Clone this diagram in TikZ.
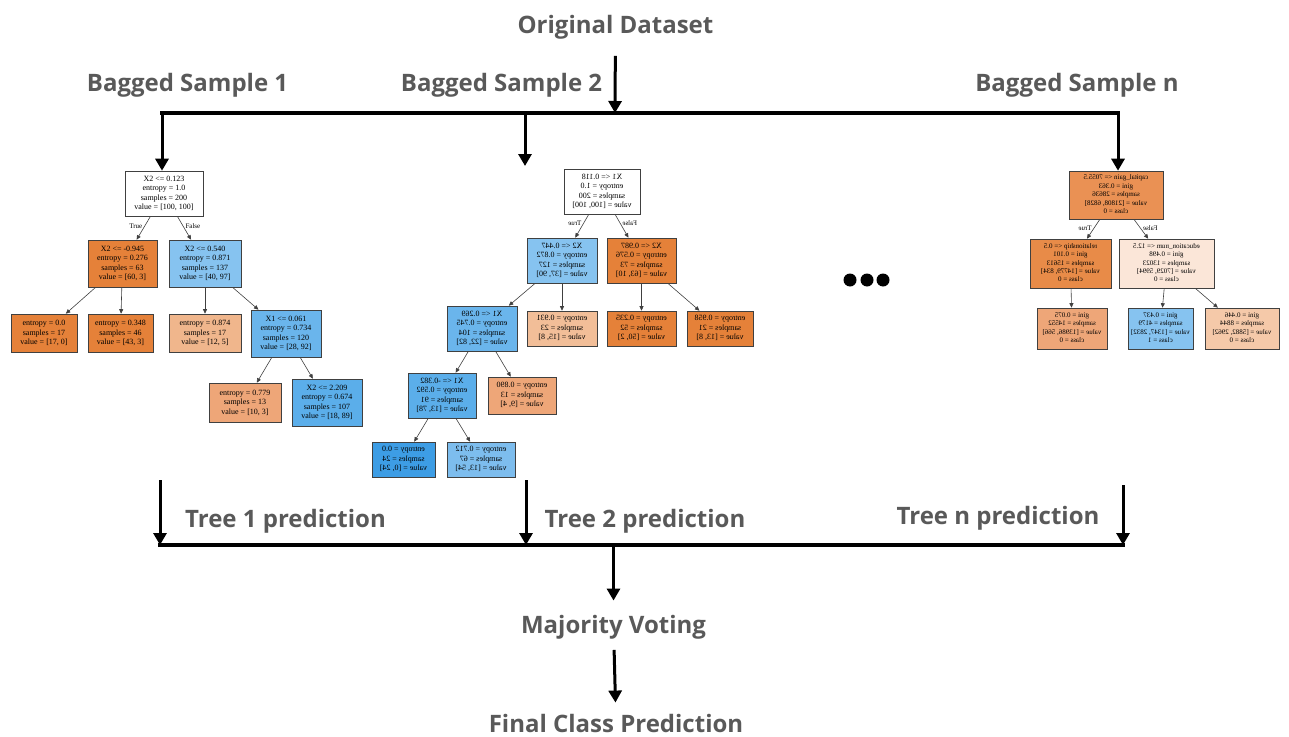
\documentclass[tikz,border=0pt]{standalone}
\usepackage{fontspec}
\usepackage{tikz}
\usetikzlibrary{arrows.meta, calc}
\newfontfamily\labelfont{Open Sans}
\newfontfamily\treefont{Liberation Serif}
\definecolor{ink}{gray}{0.35}
\definecolor{edge}{gray}{0.25}
\definecolor{org}{RGB}{229,129,57}
\definecolor{orgB}{RGB}{232,139,72}
\definecolor{orgR}{RGB}{234,145,84}
\definecolor{loA}{RGB}{240,182,140}
\definecolor{loB}{RGB}{238,166,120}
\definecolor{loC}{RGB}{242,190,152}
\definecolor{loD}{RGB}{245,201,169}
\definecolor{pale}{RGB}{251,230,216}
\definecolor{bluA}{RGB}{134,195,240}
\definecolor{bluB}{RGB}{106,181,236}
\definecolor{bluC}{RGB}{91,174,234}
\definecolor{bluD}{RGB}{61,157,229}
\definecolor{bluE}{RGB}{125,189,238}
% mirrored node text, as printed in the second and last tree
\newcommand{\mirlines}[1]{\reflectbox{\begin{tabular}{@{}c@{}}#1\end{tabular}}}

\begin{document}
\begin{tikzpicture}[
  x=1pt, y=-1pt,
  lbl/.style={font=\labelfont\bfseries\fontsize{24}{28}\selectfont, text=ink,
              inner sep=0pt, anchor=base},
  arr/.style={line width=3pt, -{Triangle[length=12pt, width=13pt]}},
  bus/.style={line width=3.5pt, line cap=rect},
  tn/.style={draw=edge, line width=.6pt, inner sep=1pt, align=center,
             font=\treefont\fontsize{8}{9.5}\selectfont},
  tsm/.style={tn, font=\treefont\fontsize{7}{8.4}\selectfont},
  te/.style={draw=edge, line width=.6pt, -{Triangle[length=4.5pt, width=4pt]}},
  el/.style={font=\treefont\fontsize{7}{8}\selectfont, inner sep=1pt},
]
\useasboundingbox (0,0) rectangle (1289,736);

% labels
\node[lbl] (orig) at (615.5,33) {Original Dataset};
\node[lbl] (bag1) at (187.5,91) {Bagged Sample 1};
\node[lbl] (bag2) at (501.5,91) {Bagged Sample 2};
\node[lbl] (bagn) at (1077,91) {Bagged Sample n};
\node[lbl] (pred1) at (285.5,527) {Tree 1 prediction};
\node[lbl] (pred2) at (645,527) {Tree 2 prediction};
\node[lbl] (predn) at (998,524) {Tree n prediction};
\node[lbl] (vote) at (613.5,633) {Majority Voting};
\node[lbl] (final) at (616,732) {Final Class Prediction};

% tree 1
\node[tn, fill=white, minimum width=78, minimum height=45] (r1) at (164,193.5)
  {X2 <= 0.123\\entropy = 1.0\\samples = 200\\value = [100, 100]};
\node[tn, fill=org, minimum width=69, minimum height=47] (a1) at (122.5,263.5)
  {X2 <= -0.945\\entropy = 0.276\\samples = 63\\value = [60, 3]};
\node[tn, fill=bluA, minimum width=72, minimum height=47] (b1) at (205,263.5)
  {X2 <= 0.540\\entropy = 0.871\\samples = 137\\value = [40, 97]};
\node[tn, fill=org, minimum width=66, minimum height=38] (c1) at (44,333)
  {entropy = 0.0\\samples = 17\\value = [17, 0]};
\node[tn, fill=org, minimum width=65, minimum height=38] (d1) at (120.5,333)
  {entropy = 0.348\\samples = 46\\value = [43, 3]};
\node[tn, fill=loA, minimum width=72, minimum height=38] (e1) at (205,333)
  {entropy = 0.874\\samples = 17\\value = [12, 5]};
\node[tn, fill=bluB, minimum width=70, minimum height=47] (f1) at (286,333.5)
  {X1 <= 0.061\\entropy = 0.734\\samples = 120\\value = [28, 92]};
\node[tn, fill=loB, minimum width=72, minimum height=39] (g1) at (245,402.5)
  {entropy = 0.779\\samples = 13\\value = [10, 3]};
\node[tn, fill=bluC, minimum width=70, minimum height=47] (h1) at (327,402.5)
  {X2 <= 2.209\\entropy = 0.674\\samples = 107\\value = [18, 89]};
\draw[te] (r1) -- node[el, left=1pt, pos=.43] {True} (a1);
\draw[te] (r1) -- node[el, right=1pt, pos=.43] {False} (b1);
\draw[te] (a1) -- (c1);
\draw[te] (a1) -- (d1);
\draw[te] (b1) -- (e1);
\draw[te] (b1) -- (f1);
\draw[te] (f1) -- (g1);
\draw[te] (f1) -- (h1);

% tree 2
\node[tn, fill=white, minimum width=76, minimum height=45] (r2) at (602,191.5)
  {\mirlines{X1 <= 0.118\\entropy = 1.0\\samples = 200\\value = [100, 100]}};
\node[tn, fill=bluA, minimum width=70, minimum height=45] (a2) at (562,260.5)
  {\mirlines{X2 <= 0.447\\entropy = 0.872\\samples = 127\\value = [37, 90]}};
\node[tn, fill=org, minimum width=69, minimum height=45] (b2) at (641.5,260.5)
  {\mirlines{X2 <= 0.987\\entropy = 0.576\\samples = 73\\value = [63, 10]}};
\node[tn, fill=bluB, minimum width=70, minimum height=45] (c2) at (482,328.5)
  {\mirlines{X1 <= 0.269\\entropy = 0.745\\samples = 104\\value = [22, 82]}};
\node[tn, fill=loC, minimum width=70, minimum height=35] (d2) at (562,328.5)
  {\mirlines{entropy = 0.931\\samples = 23\\value = [15, 8]}};
\node[tn, fill=org, minimum width=69, minimum height=35] (e2) at (641.5,328.5)
  {\mirlines{entropy = 0.235\\samples = 52\\value = [50, 2]}};
\node[tn, fill=org, minimum width=66, minimum height=35] (f2) at (720,328.5)
  {\mirlines{entropy = 0.958\\samples = 21\\value = [13, 8]}};
\node[tn, fill=bluC, minimum width=68, minimum height=45] (g2) at (442,395.5)
  {\mirlines{X1 <= -0.382\\entropy = 0.592\\samples = 91\\value = [13, 78]}};
\node[tn, fill=loB, minimum width=68, minimum height=37] (h2) at (522,395.5)
  {\mirlines{entropy = 0.890\\samples = 13\\value = [9, 4]}};
\node[tn, fill=bluD, minimum width=63, minimum height=35] (i2) at (403.5,459.5)
  {\mirlines{entropy = 0.0\\samples = 24\\value = [0, 24]}};
\node[tn, fill=bluE, minimum width=68, minimum height=35] (j2) at (481,459.5)
  {\mirlines{entropy = 0.712\\samples = 67\\value = [13, 54]}};
\draw[te] (r2) -- node[el, left=1pt, pos=.38] {\reflectbox{True}} (a2);
\draw[te] (r2) -- node[el, right=1pt, pos=.38] {\reflectbox{False}} (b2);
\draw[te] (a2) -- (c2);
\draw[te] (a2) -- (d2);
\draw[te] (b2) -- (e2);
\draw[te] (b2) -- (f2);
\draw[te] (c2) -- (g2);
\draw[te] (c2) -- (h2);
\draw[te] (g2) -- (i2);
\draw[te] (g2) -- (j2);

% tree n
\node[tsm, fill=orgR, minimum width=94, minimum height=48] (rn) at (1116,195)
  {\mirlines{capital\_gain <= 7055.5\\gini = 0.363\\samples = 28636\\value = [21808, 6828]\\class = 0}};
\node[tsm, fill=orgB, minimum width=81, minimum height=49] (an) at (1070.5,263.5)
  {\mirlines{relationship <= 0.5\\gini = 0.101\\samples = 15613\\value = [14779, 834]\\class = 0}};
\node[tsm, fill=pale, minimum width=95, minimum height=49] (bn) at (1166.5,263.5)
  {\mirlines{education\_num <= 12.5\\gini = 0.498\\samples = 13023\\value = [7029, 5994]\\class = 0}};
\node[tsm, fill=loB, minimum width=70, minimum height=41] (cn) at (1072,328.5)
  {\mirlines{gini = 0.075\\samples = 14552\\value = [13986, 566]\\class = 0}};
\node[tsm, fill=bluA, minimum width=65, minimum height=41] (dn) at (1160.5,328.5)
  {\mirlines{gini = 0.437\\samples = 4179\\value = [1347, 2832]\\class = 1}};
\node[tsm, fill=loD, minimum width=74, minimum height=41] (en) at (1242,328.5)
  {\mirlines{gini = 0.446\\samples = 8844\\value = [5882, 2962]\\class = 0}};
\draw[te] (rn) -- node[el, left=1pt, pos=.47] {\reflectbox{True}} (an);
\draw[te] (rn) -- node[el, right=1pt, pos=.47] {\reflectbox{False}} (bn);
\draw[te] (an) -- (cn);
\draw[te] (bn) -- (dn);
\draw[te] (bn) -- (en);

% more trees
\foreach \x in {850,867,883}
  \fill (\x,280) circle[radius=6.5pt];

% split into samples
\coordinate (tm) at (615,113);
\coordinate (t1) at (162,113);
\coordinate (t2) at (525,113);
\coordinate (t3) at (1118,113);
\coordinate (s2) at (525,166);
\draw[bus] (t1) -- (t3);
\draw[arr, shorten <=17pt] (orig) -- (tm);
\draw[arr] (t1) -- (t1 |- r1.north);
\draw[arr] (t2) -- (s2);
\draw[arr] (t3) -- (t3 |- rn.north);

% collect predictions
\coordinate (p1) at (160,480);
\coordinate (p2) at (526,480);
\coordinate (p3) at (1123,485);
\coordinate (q1) at (160,545);
\coordinate (q2) at (526,545);
\coordinate (q3) at (1123,545);
\coordinate (qm) at (vote |- q1);
\draw[bus] (q1) -- (q3);
\foreach \i in {1,2,3}
  \draw[arr] (p\i) -- (q\i);
\draw[arr, shorten >=14pt] (qm) -- (vote);
\draw[arr, shorten <=11pt, shorten >=11pt] (vote) -- (final);
\end{tikzpicture}
\end{document}
